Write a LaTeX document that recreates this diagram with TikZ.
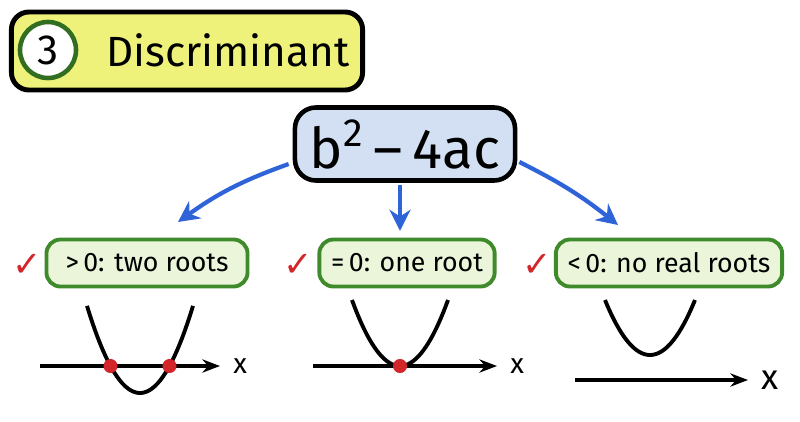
\documentclass[tikz,border=0pt]{standalone}
\usepackage{fontspec}
\setmainfont{Fira Sans}
\newfontfamily\symfont{DejaVu Sans}
\usetikzlibrary{positioning,arrows.meta}
\definecolor{titlefill}{HTML}{EEF27A}
\definecolor{formfill}{HTML}{D3E0F3}
\definecolor{casefill}{HTML}{EAF5DA}
\definecolor{caseline}{HTML}{3F8A2A}
\definecolor{arrowblue}{HTML}{2F63D8}
\definecolor{checkred}{HTML}{D3262A}
\tikzset{
  casebox/.style={draw=caseline, fill=casefill, line width=1.1pt, rounded corners=4pt, minimum height=0.47cm, font=\fontsize{7.6}{9}\selectfont},
  check/.style={text=checkred, font=\symfont\fontsize{10}{10}\selectfont},
  branch/.style={arrowblue, line width=1.2pt, -{Stealth[length=6pt,width=6pt]}},
  curve/.style={line width=1.1pt},
  axis/.style={line width=0.9pt, -{Stealth[length=5pt]}},
  xlabel/.style={right, font=\fontsize{8}{8}\selectfont},
  rootpt/.style={circle, fill=checkred, inner sep=0pt, minimum size=4pt}
}
\begin{document}
\begin{tikzpicture}[x=0.01cm, y=-0.01cm]
  \useasboundingbox (0,0) rectangle (800,421);
  % title
  \node[draw, fill=titlefill, line width=1.4pt, rounded corners=5pt, minimum width=3.51cm, minimum height=0.78cm] (title) at (187,51) {};
  \node[draw=caseline!80!black, fill=white, circle, line width=1.3pt, minimum size=0.56cm, inner sep=0pt, font=\fontsize{12}{14}\selectfont] (num) at (48,50) {3};
  \node[font=\fontsize{12}{14}\selectfont, anchor=west] (tname) at (94,50) {Discriminant};
  % formula
  \node[draw, fill=formfill, line width=1.3pt, rounded corners=6pt, minimum width=2.2cm, minimum height=0.73cm, font=\fontsize{16}{18}\selectfont] (disc) at (405,144) {b\textsuperscript{2}\,–\,4ac};
  % cases
  \node[casebox, minimum width=2.01cm] (gt) at (147,263) {>\,0: two roots};
  \node[casebox, minimum width=1.68cm] (eq) at (407,263) {=\,0: one root};
  \node[casebox, minimum width=2.25cm] (lt) at (669,263) {<\,0: no real roots};
  \node[check] (c1) at (27,265) {✓};
  \node[check] (c2) at (298,265) {✓};
  \node[check] (c3) at (537,265) {✓};
  \coordinate (e1) at (178,222);
  \coordinate (e3) at (618,225);
  \draw[branch] (disc.west) ++(-4,20) coordinate (s1) to[bend right=8] (e1);
  \draw[branch] (disc.south) ++(-5,2) coordinate (s2) -- ++(0,46);
  \draw[branch] (disc.east) ++(2,18) coordinate (s3) to[bend left=6] (e3);
  % graphs
  \coordinate (a1s) at (40,366); \coordinate (a1e) at (220,366);
  \draw[axis] (a1s) -- (a1e) node[xlabel] (x1) {x};
  \draw[curve] plot[domain=-53:53, samples=40] ({140+\x},{393-27/870.25*\x*\x});
  \node[rootpt] (r1) at (110.5,366) {};
  \node[rootpt] (r2) at (169.5,366) {};
  \coordinate (a2s) at (313,366); \coordinate (a2e) at (497,366);
  \draw[axis] (a2s) -- (a2e) node[xlabel] (x2) {x};
  \draw[curve] plot[domain=-48:48, samples=40] ({400+\x},{366-66/2304*\x*\x});
  \node[rootpt] (r3) at (400,366) {};
  \coordinate (a3s) at (575,380); \coordinate (a3e) at (748,380);
  \draw[axis] (a3s) -- (a3e) node[xlabel, font=\fontsize{10}{10}\selectfont] (x3) {x};
  \draw[curve] plot[domain=-45:45, samples=40] ({650+\x},{355-55/2025*\x*\x});
\end{tikzpicture}
\end{document}
